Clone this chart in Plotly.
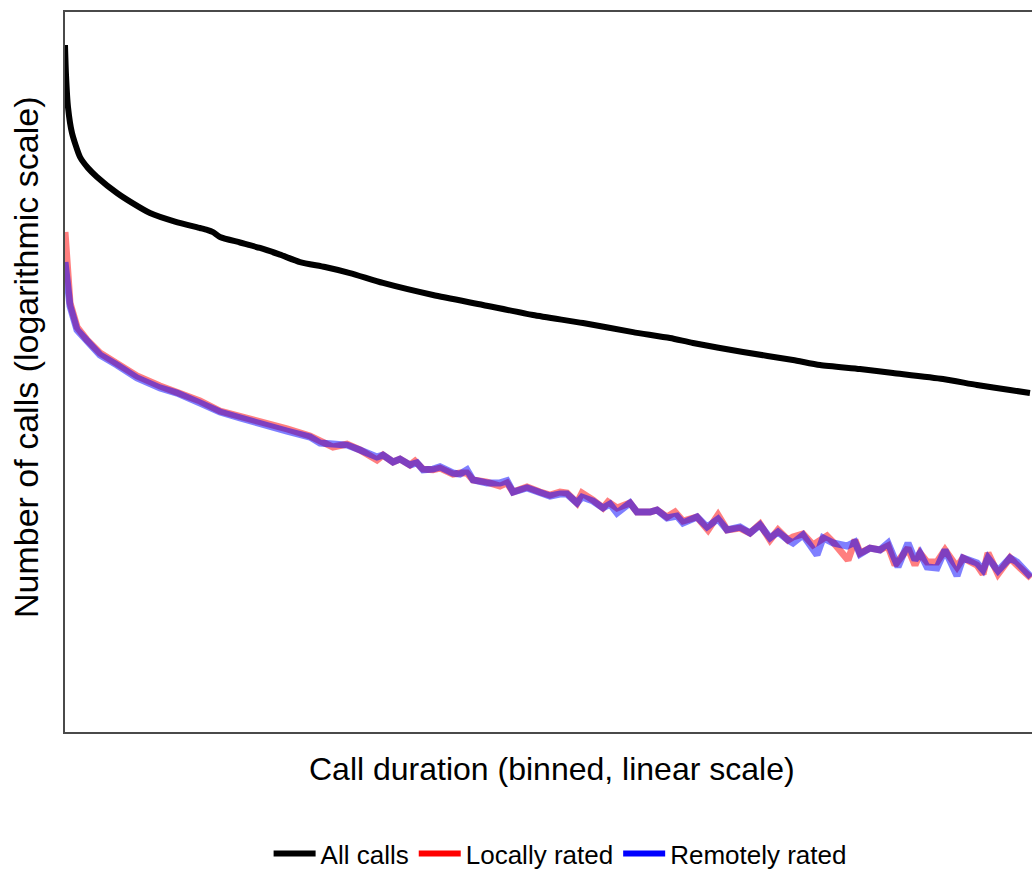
import plotly.graph_objects as go

# Call duration bins (arbitrary linear units) and counts (log axis)
all_x = [0, 1, 3, 7, 15, 23, 32, 52, 68, 85, 110, 135, 142, 148, 155, 175, 195, 215, 235, 260,
         285, 318, 368, 418, 468, 518, 568, 605, 628, 678, 728, 755, 795, 828, 878, 912, 945, 965]
all_calls = [531000, 298500, 161400, 98200, 61900, 50100, 42200, 31000, 25400, 21100, 17900, 15850,
             15300, 14650, 13340, 12000, 10800, 9500, 8250, 7500, 6680, 5520, 4380, 3620, 2985,
             2560, 2150, 1920, 1745, 1468, 1259, 1143, 1059, 982, 875, 779, 708, 668]

local_x = [0, 2, 5, 12, 22, 35, 52, 72, 95, 112, 135, 155, 175, 195, 222, 245, 255, 268, 282, 295,
           312, 318, 328, 335, 345, 350, 358, 368, 375, 388, 395, 402, 408, 422, 435, 442, 448, 462,
           475, 485, 495, 502, 512, 517, 528, 538, 543, 552, 565, 572, 585, 592, 602, 610, 618, 632,
           643, 653, 662, 675, 685, 695, 705, 713, 723, 728, 738, 748, 762, 768, 783, 790, 795, 805,
           815, 823, 830, 843, 850, 855, 862, 872, 880, 892, 898, 912, 918, 923, 933, 945, 952, 958,
           966]
local_rated = [14680, 6430, 3760, 2370, 1849, 1440, 1189, 926, 764, 681, 573, 473, 430, 383, 335,
               293, 266, 237, 251, 224, 185, 203, 178, 188, 168, 181, 155, 153, 158, 141, 144, 144,
               126, 121, 112, 119, 100, 110, 100, 94.4, 100, 98.1, 81, 98.1, 85.8, 73.6, 82.6, 73.6,
               81, 68.1, 68.1, 70.8, 61.9, 68.1, 57.3, 61.9, 48.3, 64.3, 48.3, 50.1, 45.5, 54.1,
               39.8, 48.3, 39.8, 42.2, 44.7, 36.2, 43, 38.3, 27.1, 39.8, 31, 34.1, 32.9, 35.5, 24.6,
               34.1, 24.6, 31, 26.1, 26.1, 32.9, 23.7, 28.2, 24.6, 20.7, 31, 20.7, 28.2, 24.6, 22,
               19.2]

remote_x = [0, 2, 5, 12, 22, 35, 52, 72, 95, 112, 135, 155, 175, 195, 222, 245, 255, 268, 282, 295,
            312, 318, 328, 335, 345, 352, 358, 368, 375, 388, 395, 402, 408, 422, 435, 442, 448, 462,
            475, 485, 495, 502, 512, 517, 528, 538, 545, 552, 565, 572, 585, 592, 602, 612, 618, 632,
            642, 653, 662, 675, 685, 695, 705, 713, 723, 728, 738, 752, 758, 768, 782, 790, 795, 805,
            815, 823, 833, 843, 850, 855, 862, 872, 880, 892, 898, 912, 918, 923, 933, 945, 952, 958,
            966]
remote_rated = [8250, 5620, 3550, 2240, 1778, 1387, 1143, 891, 736, 668, 552, 464, 414, 369, 322,
                287, 256, 251, 246, 224, 196, 203, 178, 188, 168, 175, 153, 155, 162, 144, 141, 153,
                126, 119, 119, 124, 100, 108, 98.1, 92.6, 96.2, 96.2, 81, 90.8, 84.1, 73.6, 79.4,
                66.8, 81, 68.1, 68.1, 70.8, 60.7, 63.1, 55.2, 61.9, 51.1, 59.6, 48.3, 51.1, 45.5,
                53.1, 41.4, 46.4, 39.8, 37.6, 43.8, 29.9, 41.4, 37.6, 35.5, 38.3, 30.4, 34.1, 32.9,
                37.6, 23.7, 37.6, 27.1, 31, 23.7, 23.3, 32.9, 20, 28.2, 25.6, 22.4, 28.2, 22, 28.2,
                26.1, 23.3, 19.6]

series_names = ["All calls", "Locally rated", "Remotely rated"]
series_colors = ["black", "red", "blue"]
x_title = "Call duration (binned, linear scale)"
y_title = "Number of calls (logarithmic scale)"

fig = go.Figure()
fig.add_trace(go.Scatter(x=all_x, y=all_calls, mode="lines", showlegend=False,
                         line=dict(color="black", width=6, shape="spline", smoothing=0.6),
                         hoverinfo="skip"))
fig.add_trace(go.Scatter(x=local_x, y=local_rated, mode="lines", showlegend=False,
                         line=dict(color="rgba(255,0,0,0.5)", width=7), hoverinfo="skip"))
fig.add_trace(go.Scatter(x=remote_x, y=remote_rated, mode="lines", showlegend=False,
                         line=dict(color="rgba(0,0,255,0.5)", width=7), hoverinfo="skip"))
for name, col in zip(series_names, series_colors):
    fig.add_trace(go.Scatter(x=[None], y=[None], mode="lines", name=name,
                             line=dict(color=col, width=6)))

font_family = "Liberation Sans, Arial, sans-serif"
fig.update_layout(
    width=1032, height=869,
    margin=dict(l=65, r=0, t=12, b=137, autoexpand=False),
    paper_bgcolor="white", plot_bgcolor="white",
    font=dict(family=font_family, color="black"),
    showlegend=True,
    legend=dict(orientation="h", x=0.512, xanchor="center", y=-0.169, yanchor="middle",
                font=dict(size=26), itemwidth=42, tracegroupgap=0,
                bgcolor="rgba(0,0,0,0)"),
    xaxis=dict(range=[0, 967], showgrid=False, zeroline=False, showticklabels=False,
               ticks="", showline=True, linecolor="#4a4a4a", linewidth=1.5, mirror=True),
    yaxis=dict(type="log", range=[0, 6], showgrid=False, zeroline=False, showticklabels=False,
               ticks="", showline=True, linecolor="#4a4a4a", linewidth=1.5, mirror=False),
    annotations=[
        dict(text=x_title, xref="paper", yref="paper", x=(552 - 65) / 967, y=(732 - 769) / 720,
             xanchor="center", yanchor="middle", showarrow=False, font=dict(size=32)),
        dict(text=y_title, xref="paper", yref="paper", x=(26 - 65) / 967, y=(732 - 357) / 720,
             xanchor="center", yanchor="middle", showarrow=False, textangle=-90,
             font=dict(size=34)),
    ],
)
fig.write_html("out.html")
